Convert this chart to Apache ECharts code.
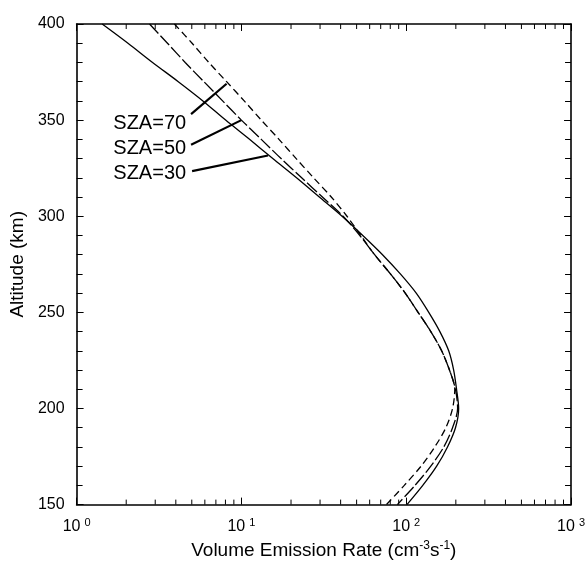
<!DOCTYPE html>
<html>
<head>
<meta charset="utf-8">
<script src="https://cdn.jsdelivr.net/npm/echarts@6/dist/echarts.min.js"></script>
<style>
  html, body { margin: 0; padding: 0; background: #fff; }
  #chart { width: 588px; height: 565px; }
</style>
</head>
<body>
<div id="chart"></div>
<script>
// Altitude grid (km), top to bottom
const altitudes = [400, 390, 380, 370, 360, 350, 340, 330, 320, 310, 300, 290, 280,
                   270, 260, 250, 240, 230, 220, 210, 200, 190, 180, 170, 160, 150];

// Volume emission rate (cm^-3 s^-1) for each solar zenith angle
const sza30 = [1.43, 2.05, 2.89, 4.14, 5.84, 8.02, 11.2, 15.5, 21.6, 29.7, 40.8, 54.5, 71.8,
               92.1, 115, 137, 160, 181, 194, 202, 208, 199, 178, 153, 126, 101];
const sza50 = [2.77, 3.56, 4.56, 5.92, 7.69, 10.0, 13.2, 17.4, 23.2, 31.0, 41.4, 52.3, 64.3,
               80.2, 98.6, 118, 141, 164, 183, 199, 205, 191, 169, 141, 113, 88.3];
const sza70 = [3.92, 5.02, 6.34, 8.13, 10.4, 13.2, 16.9, 21.5, 27.4, 35.1, 43.7, 53.0, 64.3,
               80.2, 98.6, 118, 141, 164, 183, 197, 191, 174, 149, 123, 97.3, 75.9];

// Curve annotations: label text, label anchor [rate, altitude], leader line from/to
const annotations = [
  { text: 'SZA=70', at: [4.62, 348.0], from: [4.95, 353.1], to: [8.13, 368.9] },
  { text: 'SZA=50', at: [4.62, 335.2], from: [4.95, 337.2], to: [10.0, 350.0] },
  { text: 'SZA=30', at: [4.62, 322.4], from: [5.02, 323.5], to: [14.5, 331.6] }
];

const FONT = '"Liberation Sans", Arial, Helvetica, sans-serif';
const chart = echarts.init(document.getElementById('chart'), null, { renderer: 'canvas' });

const pairs = vals => altitudes.map((a, i) => [vals[i], a]);

const axisLineStyle = { color: '#000', width: 1.6 };
const tickStyle = { color: '#000', width: 1 };

function powLabel(v) {
  const e = Math.round(Math.log10(v));
  return '{b|10}{s|' + e + '}';
}

const option = {
  backgroundColor: '#fff',
  animation: false,
  grid: { left: 74, right: 13, top: 24, bottom: 51, containLabel: false },
  xAxis: [
    {
      type: 'log', logBase: 10, min: 1, max: 1000, position: 'bottom',
      axisLine: { show: true, onZero: false, lineStyle: axisLineStyle },
      axisTick: { show: true, inside: true, length: 7, lineStyle: tickStyle },
      minorTick: { show: false },
      splitLine: { show: false },
      axisLabel: {
        show: true, margin: 13, color: '#000', fontFamily: FONT,
        formatter: powLabel,
        rich: {
          b: { fontSize: 16, fontFamily: FONT, color: '#000', lineHeight: 18 },
          s: { fontSize: 11, fontFamily: FONT, color: '#000', verticalAlign: 'top', lineHeight: 11, padding: [0, 0, 0, 4] }
        }
      },
      name: '{t|Volume Emission Rate (cm}{s|-3}{t|s}{s|-1}{t|)}',
      nameLocation: 'middle', nameGap: 31,
      nameTextStyle: {
        fontFamily: FONT, color: '#000',
        rich: {
          t: { fontSize: 19, fontFamily: FONT, color: '#000', lineHeight: 22 },
          s: { fontSize: 12, fontFamily: FONT, color: '#000', verticalAlign: 'top', lineHeight: 12 }
        }
      }
    },
    {
      type: 'log', logBase: 10, min: 1, max: 1000, position: 'top',
      axisLine: { show: true, onZero: false, lineStyle: axisLineStyle },
      axisTick: { show: true, inside: true, length: 7, lineStyle: tickStyle },
      axisLabel: { show: false },
      splitLine: { show: false }
    }
  ],
  yAxis: [
    {
      type: 'value', min: 150, max: 400, interval: 50, position: 'left',
      axisLine: { show: true, onZero: false, lineStyle: axisLineStyle },
      axisTick: { show: true, inside: true, length: 7, lineStyle: tickStyle },
      minorTick: { show: true, splitNumber: 5, length: 6, lineStyle: tickStyle },
      splitLine: { show: false },
      axisLabel: { margin: 12, fontSize: 16, color: '#000', fontFamily: FONT },
      name: 'Altitude (km)', nameLocation: 'middle', nameGap: 33, nameRotate: 90,
      nameTextStyle: { fontSize: 19, color: '#000', fontFamily: FONT }
    },
    {
      type: 'value', min: 150, max: 400, interval: 50, position: 'right',
      axisLine: { show: true, onZero: false, lineStyle: axisLineStyle },
      axisTick: { show: true, inside: true, length: 7, lineStyle: tickStyle },
      minorTick: { show: true, splitNumber: 5, length: 6, lineStyle: tickStyle },
      splitLine: { show: false },
      axisLabel: { show: false }
    }
  ],
  series: [
    {
      name: 'SZA=30', type: 'line', data: pairs(sza30), smooth: 0.3, symbol: 'none',
      lineStyle: { color: '#000', width: 1.3, type: 'solid' }
    },
    {
      name: 'SZA=50', type: 'line', data: pairs(sza50), smooth: 0.3, symbol: 'none',
      lineStyle: { color: '#000', width: 1.3, type: [13, 3] }
    },
    {
      name: 'SZA=70', type: 'line', data: pairs(sza70), smooth: 0.3, symbol: 'none',
      lineStyle: { color: '#000', width: 1.3, type: [7, 4] }
    }
  ]
};

chart.setOption(option);

// Log-axis minor ticks at 2..9 of each decade, plus the curve labels and leader lines,
// all placed through the axis scales
function buildExtras() {
  const toPx = p => chart.convertToPixel({ xAxisIndex: 0, yAxisIndex: 0 }, p);
  const els = [];
  const yBottom = toPx([1, 150])[1];
  const yTop = toPx([1, 400])[1];
  for (let d = 1; d < 1000; d *= 10) {
    for (let m = 2; m <= 9; m++) {
      const x = toPx([d * m, 150])[0];
      els.push({ type: 'line', silent: true, shape: { x1: x, y1: yBottom, x2: x, y2: yBottom - 5 }, style: { stroke: '#000', lineWidth: 1 } });
      els.push({ type: 'line', silent: true, shape: { x1: x, y1: yTop, x2: x, y2: yTop + 5 }, style: { stroke: '#000', lineWidth: 1 } });
    }
  }
  annotations.forEach(a => {
    const p = toPx(a.at);
    const f = toPx(a.from);
    const t = toPx(a.to);
    els.push({
      type: 'text', silent: true, x: p[0], y: p[1],
      style: { text: a.text, fill: '#000', font: '20px ' + FONT, align: 'right', verticalAlign: 'middle' }
    });
    els.push({
      type: 'line', silent: true,
      shape: { x1: f[0], y1: f[1], x2: t[0], y2: t[1] },
      style: { stroke: '#000', lineWidth: 2.2 }
    });
  });
  chart.setOption({ graphic: { elements: els } });
}
buildExtras();
</script>
</body>
</html>
